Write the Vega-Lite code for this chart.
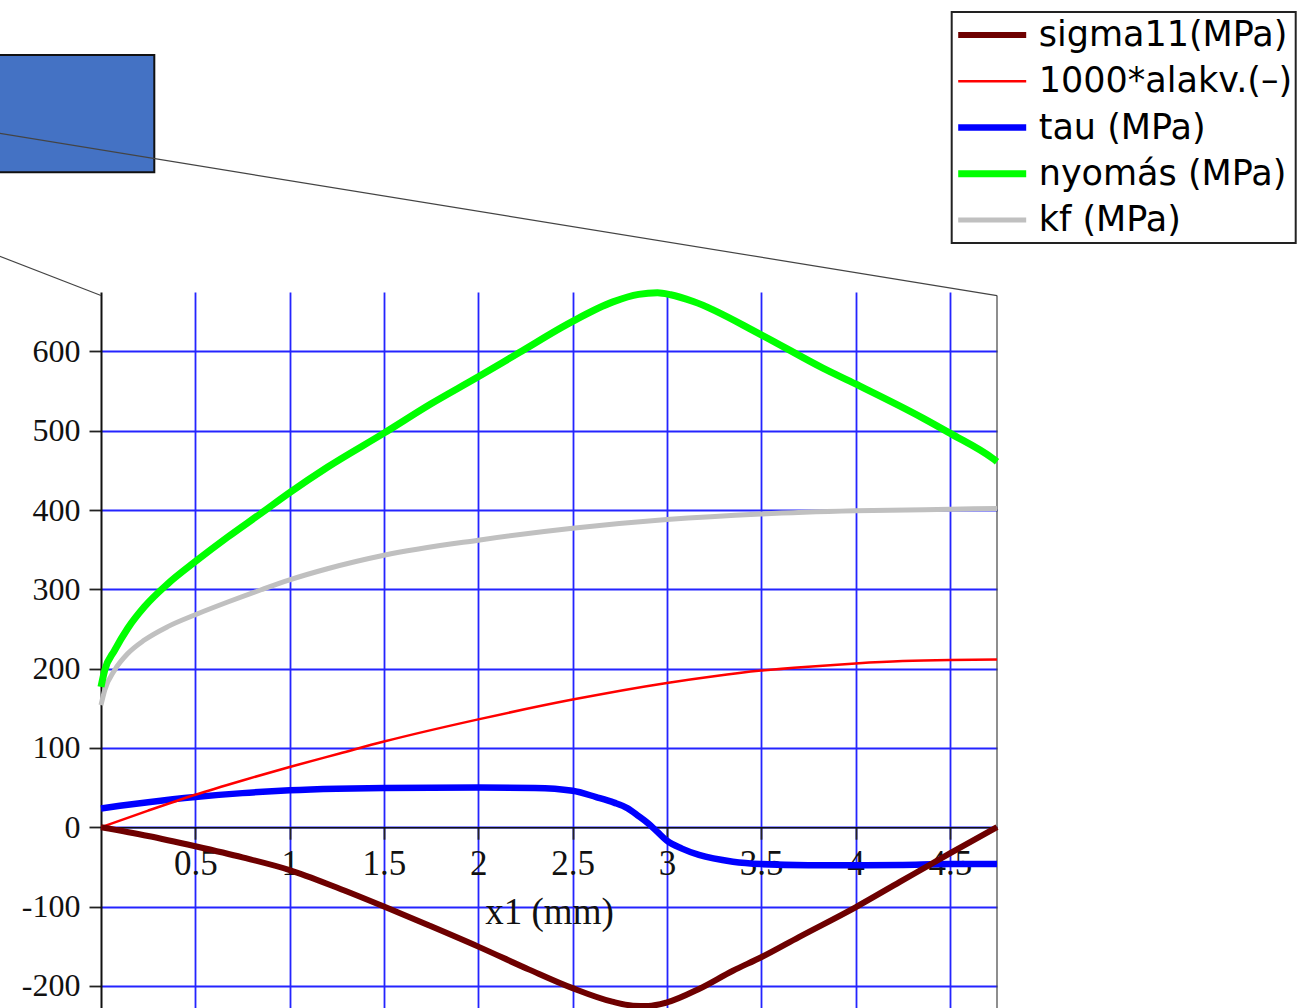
{
  "$schema": "https://vega.github.io/schema/vega-lite/v6.json",
  "width": 896,
  "height": 716,
  "autosize": {"type": "none"},
  "padding": {"left": 101, "top": 292, "right": 315, "bottom": 0},
  "background": "white",
  "config": {"view": {"stroke": null}},
  "datasets": {
    "series": [
      {"s": "tau (MPa)", "x": 0, "v": 23.7},
      {"s": "tau (MPa)", "x": 0.1, "v": 27},
      {"s": "tau (MPa)", "x": 0.25, "v": 31.5},
      {"s": "tau (MPa)", "x": 0.5, "v": 38},
      {"s": "tau (MPa)", "x": 0.75, "v": 43},
      {"s": "tau (MPa)", "x": 1, "v": 46.5},
      {"s": "tau (MPa)", "x": 1.25, "v": 48.5},
      {"s": "tau (MPa)", "x": 1.5, "v": 49.5},
      {"s": "tau (MPa)", "x": 2, "v": 50},
      {"s": "tau (MPa)", "x": 2.3, "v": 49.5},
      {"s": "tau (MPa)", "x": 2.5, "v": 46},
      {"s": "tau (MPa)", "x": 2.625, "v": 38},
      {"s": "tau (MPa)", "x": 2.72, "v": 31},
      {"s": "tau (MPa)", "x": 2.79, "v": 24},
      {"s": "tau (MPa)", "x": 2.85, "v": 14},
      {"s": "tau (MPa)", "x": 2.9, "v": 5},
      {"s": "tau (MPa)", "x": 2.95, "v": -6},
      {"s": "tau (MPa)", "x": 3.0, "v": -17},
      {"s": "tau (MPa)", "x": 3.08, "v": -27},
      {"s": "tau (MPa)", "x": 3.17, "v": -35},
      {"s": "tau (MPa)", "x": 3.35, "v": -43.5},
      {"s": "tau (MPa)", "x": 3.5, "v": -46.5},
      {"s": "tau (MPa)", "x": 3.75, "v": -48},
      {"s": "tau (MPa)", "x": 4, "v": -48},
      {"s": "tau (MPa)", "x": 4.25, "v": -47.5},
      {"s": "tau (MPa)", "x": 4.5, "v": -46.5},
      {"s": "tau (MPa)", "x": 4.75, "v": -46.5},

      {"s": "kf (MPa)", "x": 0, "v": 154},
      {"s": "kf (MPa)", "x": 0.02, "v": 173},
      {"s": "kf (MPa)", "x": 0.072, "v": 198},
      {"s": "kf (MPa)", "x": 0.142, "v": 219},
      {"s": "kf (MPa)", "x": 0.23, "v": 236},
      {"s": "kf (MPa)", "x": 0.354, "v": 253},
      {"s": "kf (MPa)", "x": 0.5, "v": 268},
      {"s": "kf (MPa)", "x": 0.672, "v": 284},
      {"s": "kf (MPa)", "x": 0.849, "v": 299.5},
      {"s": "kf (MPa)", "x": 1, "v": 312},
      {"s": "kf (MPa)", "x": 1.2, "v": 326},
      {"s": "kf (MPa)", "x": 1.5, "v": 343},
      {"s": "kf (MPa)", "x": 2, "v": 362},
      {"s": "kf (MPa)", "x": 2.5, "v": 377},
      {"s": "kf (MPa)", "x": 3, "v": 388},
      {"s": "kf (MPa)", "x": 3.5, "v": 395},
      {"s": "kf (MPa)", "x": 4, "v": 399},
      {"s": "kf (MPa)", "x": 4.5, "v": 401},
      {"s": "kf (MPa)", "x": 4.75, "v": 402},

      {"s": "nyomás (MPa)", "x": 0, "v": 177},
      {"s": "nyomás (MPa)", "x": 0.02, "v": 198},
      {"s": "nyomás (MPa)", "x": 0.072, "v": 223},
      {"s": "nyomás (MPa)", "x": 0.142, "v": 251},
      {"s": "nyomás (MPa)", "x": 0.23, "v": 278},
      {"s": "nyomás (MPa)", "x": 0.354, "v": 307},
      {"s": "nyomás (MPa)", "x": 0.5, "v": 335},
      {"s": "nyomás (MPa)", "x": 0.672, "v": 366},
      {"s": "nyomás (MPa)", "x": 0.849, "v": 396},
      {"s": "nyomás (MPa)", "x": 1, "v": 422},
      {"s": "nyomás (MPa)", "x": 1.2, "v": 454},
      {"s": "nyomás (MPa)", "x": 1.5, "v": 497},
      {"s": "nyomás (MPa)", "x": 1.75, "v": 534},
      {"s": "nyomás (MPa)", "x": 2, "v": 568},
      {"s": "nyomás (MPa)", "x": 2.22, "v": 599},
      {"s": "nyomás (MPa)", "x": 2.5, "v": 638},
      {"s": "nyomás (MPa)", "x": 2.714, "v": 662.5},
      {"s": "nyomás (MPa)", "x": 2.85, "v": 672},
      {"s": "nyomás (MPa)", "x": 2.95, "v": 674},
      {"s": "nyomás (MPa)", "x": 3.02, "v": 671.5},
      {"s": "nyomás (MPa)", "x": 3.14, "v": 663},
      {"s": "nyomás (MPa)", "x": 3.5, "v": 621},
      {"s": "nyomás (MPa)", "x": 3.827, "v": 579},
      {"s": "nyomás (MPa)", "x": 4, "v": 559},
      {"s": "nyomás (MPa)", "x": 4.357, "v": 516},
      {"s": "nyomás (MPa)", "x": 4.5, "v": 497},
      {"s": "nyomás (MPa)", "x": 4.728, "v": 465},
      {"s": "nyomás (MPa)", "x": 4.75, "v": 461},

      {"s": "1000*alakv.(–)", "x": 0, "v": 0},
      {"s": "1000*alakv.(–)", "x": 0.25, "v": 21},
      {"s": "1000*alakv.(–)", "x": 0.5, "v": 41},
      {"s": "1000*alakv.(–)", "x": 0.75, "v": 59},
      {"s": "1000*alakv.(–)", "x": 1, "v": 76},
      {"s": "1000*alakv.(–)", "x": 1.265, "v": 93},
      {"s": "1000*alakv.(–)", "x": 1.5, "v": 108},
      {"s": "1000*alakv.(–)", "x": 2, "v": 136},
      {"s": "1000*alakv.(–)", "x": 2.5, "v": 161},
      {"s": "1000*alakv.(–)", "x": 3, "v": 182},
      {"s": "1000*alakv.(–)", "x": 3.25, "v": 190.5},
      {"s": "1000*alakv.(–)", "x": 3.5, "v": 197.5},
      {"s": "1000*alakv.(–)", "x": 3.75, "v": 202.5},
      {"s": "1000*alakv.(–)", "x": 4, "v": 206.5},
      {"s": "1000*alakv.(–)", "x": 4.25, "v": 209.5},
      {"s": "1000*alakv.(–)", "x": 4.5, "v": 211},
      {"s": "1000*alakv.(–)", "x": 4.75, "v": 211.5},

      {"s": "sigma11(MPa)", "x": 0, "v": 0},
      {"s": "sigma11(MPa)", "x": 0.25, "v": -11},
      {"s": "sigma11(MPa)", "x": 0.5, "v": -24},
      {"s": "sigma11(MPa)", "x": 0.75, "v": -38},
      {"s": "sigma11(MPa)", "x": 1, "v": -54},
      {"s": "sigma11(MPa)", "x": 1.25, "v": -76},
      {"s": "sigma11(MPa)", "x": 1.5, "v": -100},
      {"s": "sigma11(MPa)", "x": 1.74, "v": -124},
      {"s": "sigma11(MPa)", "x": 2, "v": -150.6},
      {"s": "sigma11(MPa)", "x": 2.27, "v": -179.6},
      {"s": "sigma11(MPa)", "x": 2.5, "v": -203},
      {"s": "sigma11(MPa)", "x": 2.71, "v": -220},
      {"s": "sigma11(MPa)", "x": 2.82, "v": -225},
      {"s": "sigma11(MPa)", "x": 2.9, "v": -225.5},
      {"s": "sigma11(MPa)", "x": 3, "v": -221},
      {"s": "sigma11(MPa)", "x": 3.17, "v": -204},
      {"s": "sigma11(MPa)", "x": 3.35, "v": -181},
      {"s": "sigma11(MPa)", "x": 3.5, "v": -164},
      {"s": "sigma11(MPa)", "x": 3.7, "v": -138.5},
      {"s": "sigma11(MPa)", "x": 4, "v": -101},
      {"s": "sigma11(MPa)", "x": 4.235, "v": -69},
      {"s": "sigma11(MPa)", "x": 4.5, "v": -33},
      {"s": "sigma11(MPa)", "x": 4.75, "v": 0}
    ],
    "box": [{"x": -0.6, "xe": 0.2826, "v": 826, "ve": 973.9}],
    "callout": [
      {"x": -0.54, "v": 875.1, "xe": 4.75, "ve": 670.5},
      {"x": -0.54, "v": 720.4, "xe": 0, "ve": 670.6},
      {"x": 4.75, "v": 670.5, "xe": 4.75, "ve": -228}
    ]
  },
  "encoding": {
    "x": {
      "field": "x", "type": "quantitative",
      "scale": {"domain": [0, 4.75], "nice": false, "zero": false},
      "axis": {
        "orient": "bottom", "offset": -180.8,
        "values": [0.5, 1, 1.5, 2, 2.5, 3, 3.5, 4, 4.5],
        "labelExpr": "'' + datum.value",
        "grid": true, "gridColor": "#2424ff", "gridWidth": 1.8, "gridOpacity": 1,
        "domain": true, "domainColor": "#111111", "domainWidth": 1.5,
        "ticks": true, "tickColor": "#222222", "tickSize": 12, "tickWidth": 1.8,
        "labelFont": "Liberation Serif", "labelFontSize": 35, "labelColor": "#111111", "labelPadding": 7,
        "labelFlush": false, "labelOverlap": false,
        "title": "x1 (mm)", "titleFont": "Liberation Serif", "titleFontSize": 37, "titleFontWeight": "normal",
        "titleColor": "#111111", "titleX": 448, "titleY": 96, "titleBaseline": "alphabetic", "titleAlign": "center"
      }
    },
    "y": {
      "field": "v", "type": "quantitative",
      "scale": {"domain": [-228, 675], "nice": false, "zero": false},
      "axis": {
        "values": [-200, -100, 0, 100, 200, 300, 400, 500, 600],
        "labelExpr": "datum.value < 0 ? '-' + (-datum.value) : '' + datum.value",
        "grid": true, "gridColor": "#2424ff", "gridWidth": 1.8, "gridOpacity": 1,
        "domain": true, "domainColor": "#111111", "domainWidth": 2,
        "ticks": true, "tickColor": "#222222", "tickSize": 12, "tickWidth": 1.8,
        "labelFont": "Liberation Serif", "labelFontSize": 32, "labelColor": "#111111", "labelPadding": 9,
        "labelFlush": false, "labelOverlap": false,
        "title": null
      }
    }
  },
  "layer": [
    {
      "data": {"name": "box"},
      "mark": {"type": "rect", "fill": "#4472c4", "stroke": "#111111", "strokeWidth": 2},
      "encoding": {
        "x2": {"field": "xe"},
        "y2": {"field": "ve"}
      }
    },
    {
      "data": {"name": "callout"},
      "mark": {"type": "rule", "stroke": "#444444", "strokeWidth": 1.2},
      "encoding": {
        "x2": {"field": "xe"},
        "y2": {"field": "ve"}
      }
    },
    {
      "data": {"name": "series"},
      "mark": {"type": "line", "interpolate": "monotone", "strokeCap": "butt", "strokeJoin": "round"},
      "encoding": {
        "color": {
          "field": "s", "type": "nominal",
          "scale": {
            "domain": ["sigma11(MPa)", "1000*alakv.(–)", "tau (MPa)", "nyomás (MPa)", "kf (MPa)"],
            "range": ["#6e0000", "#ff0000", "#0000ff", "#00ff00", "#c0c0c0"]
          },
          "legend": {
            "orient": "none", "legendX": 850.7, "legendY": -280, "title": null,
            "symbolType": "stroke", "symbolSize": 4624, "clipHeight": 40, "rowPadding": 6.25, "columns": 1,
            "padding": 3, "labelFont": "DejaVu Sans", "labelFontSize": 35, "labelColor": "#000000",
            "labelOffset": 9, "labelLimit": 500, "strokeColor": "#222222", "fillColor": "#ffffff",
            "encode": {"legend": {"update": {"strokeWidth": {"value": 2}}}}
          }
        },
        "strokeWidth": {
          "field": "s", "type": "nominal",
          "scale": {
            "type": "ordinal",
            "domain": ["sigma11(MPa)", "1000*alakv.(–)", "tau (MPa)", "nyomás (MPa)", "kf (MPa)"],
            "range": [6, 2.5, 6.5, 7, 5]
          },
          "legend": {
            "orient": "none", "legendX": 850.7, "legendY": -280, "title": null,
            "symbolType": "stroke", "symbolSize": 4624, "clipHeight": 40, "rowPadding": 6.25, "columns": 1,
            "padding": 3, "labelFont": "DejaVu Sans", "labelFontSize": 35, "labelColor": "#000000",
            "labelOffset": 9, "labelLimit": 500, "strokeColor": "#222222", "fillColor": "#ffffff",
            "encode": {"legend": {"update": {"strokeWidth": {"value": 2}}}}
          }
        }
      }
    }
  ]
}
